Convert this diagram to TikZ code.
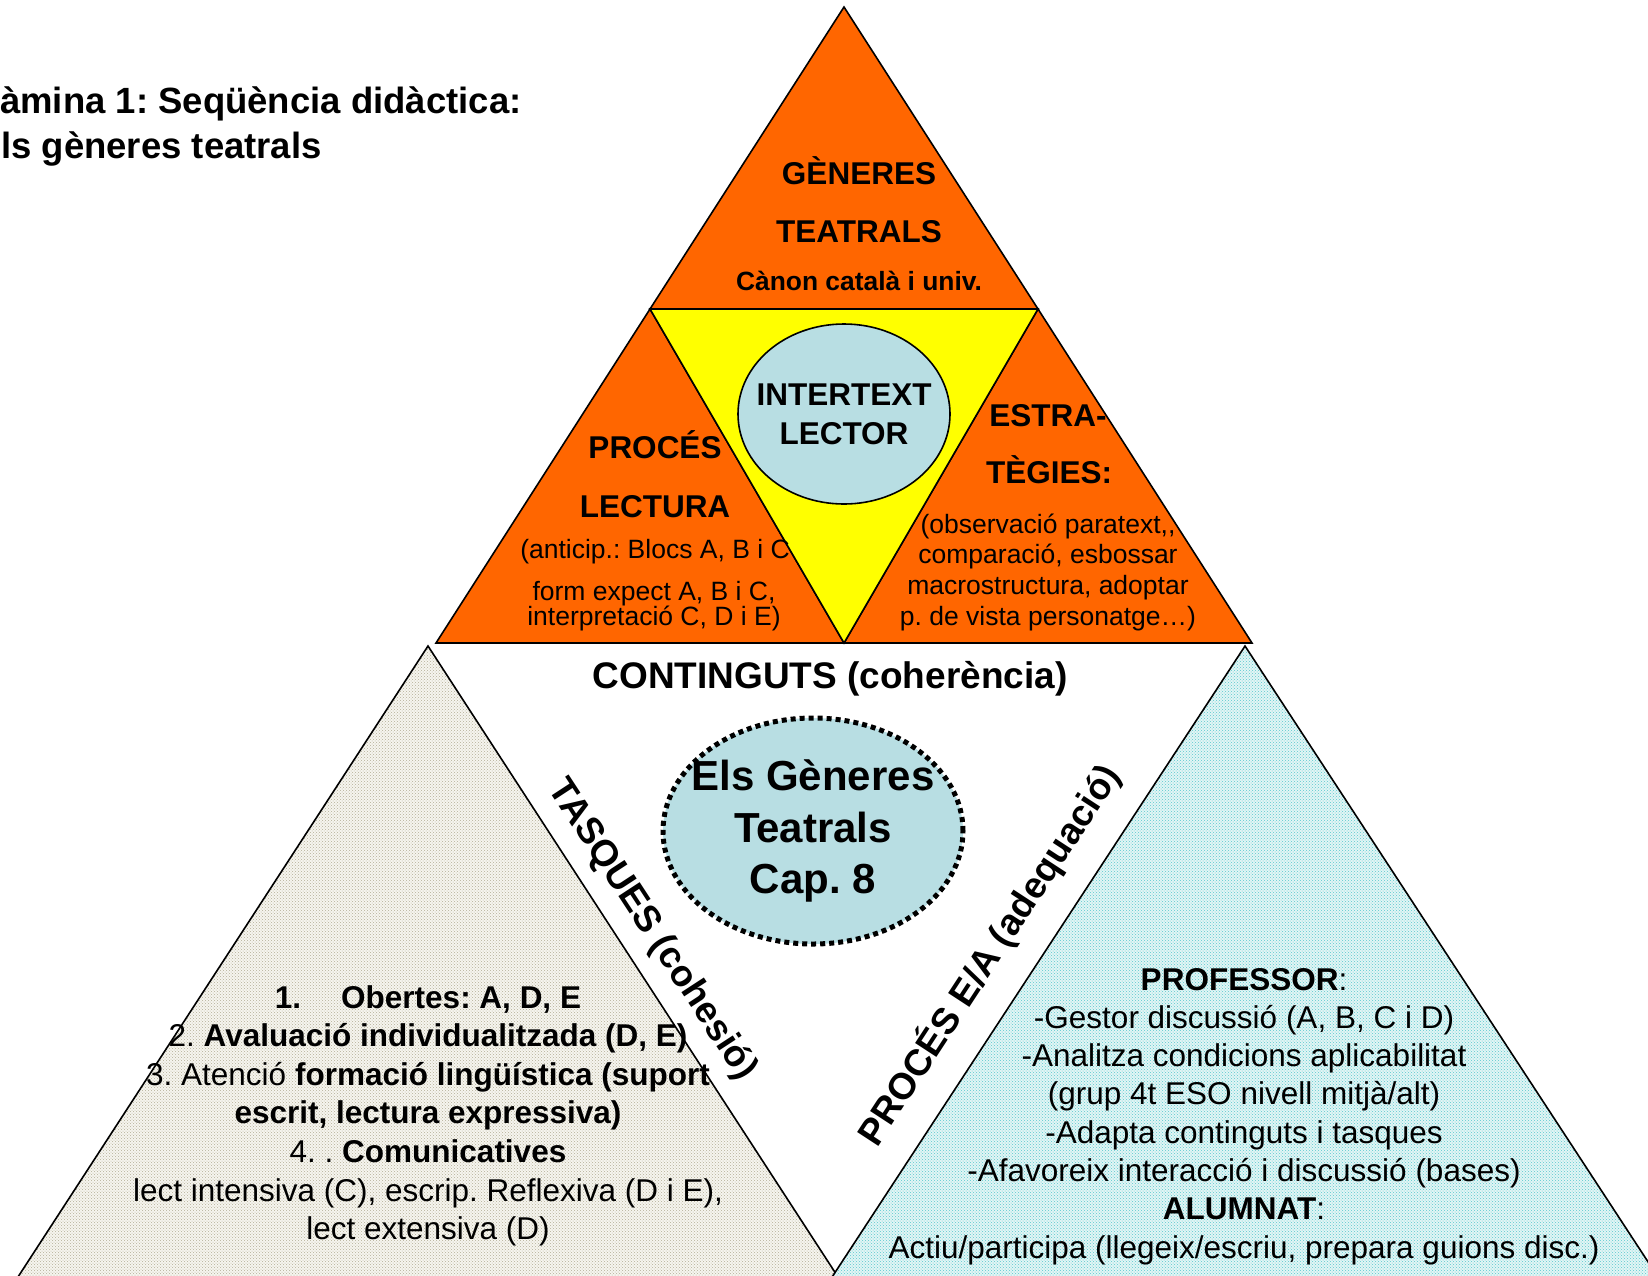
\documentclass[tikz,border=0pt]{standalone}
\usepackage{fontspec}
\setmainfont{Liberation Sans}
\frenchspacing
\usetikzlibrary{shapes.geometric,patterns}
\definecolor{taronja}{RGB}{255,102,0}
\definecolor{groc}{RGB}{255,255,0}
\definecolor{blaucel}{RGB}{184,222,227}
\definecolor{beix}{RGB}{246,245,239}
\definecolor{beixdot}{RGB}{180,175,150}
\definecolor{cian}{RGB}{226,245,245}
\definecolor{ciandot}{RGB}{90,200,205}
\newcommand{\titolfont}{\fontsize{36.5}{44}\selectfont\bfseries}
\newcommand{\capfont}{\fontsize{31.5}{39}\selectfont\bfseries}
\newcommand{\petitfont}{\fontsize{26.5}{31}\selectfont}
\newcommand{\cosfont}{\fontsize{31.5}{38.5}\selectfont}

\begin{document}
\begin{tikzpicture}[x=1pt,y=-1pt,
    tri/.style={draw=black,line width=1.6pt,line join=miter},
    capcal/.style={font=\capfont,anchor=base,inner sep=0pt},
    petit/.style={font=\petitfont,anchor=base,inner sep=0pt},
    cos/.style={font=\cosfont,anchor=base,inner sep=0pt},
    eix/.style={font=\fontsize{37}{44}\selectfont\bfseries,inner sep=0pt},
    bombolla/.style={ellipse,fill=blaucel,inner sep=0pt}]
  \useasboundingbox (0,0) rectangle (1648,1275);
  \clip (0,0) rectangle (1648,1275);

% corners of the big triangle
  \coordinate (cim) at (844,7);
  \coordinate (gl) at (650,309);
  \coordinate (gr) at (1038,309);
  \coordinate (bl) at (436,643);
  \coordinate (bm) at (844,643);
  \coordinate (br) at (1252,643);

% lower triangles (run past the bottom edge)
  \draw[tri,preaction={fill=beix},pattern=crosshatch dots,pattern color=beixdot]
    (428,646) -- (853,1300) -- (3,1300) -- cycle;
  \draw[tri,preaction={fill=cian},pattern=crosshatch dots,pattern color=ciandot]
    (1245,646) -- (1673,1300) -- (817,1300) -- cycle;

% upper pyramid
  \draw[tri,fill=taronja] (cim) -- (gr) -- (gl) -- cycle;
  \draw[tri,fill=taronja] (gl) -- (bm) -- (bl) -- cycle;
  \draw[tri,fill=taronja] (gr) -- (br) -- (bm) -- cycle;
  \draw[tri,fill=groc] (gl) -- (gr) -- (bm) -- cycle;

% title (cut by the left edge)
  \node[font=\titolfont,anchor=base west,inner sep=0pt] (titol1) at (0,113) {àmina 1: Seqüència didàctica:};
  \node[font=\titolfont,anchor=base west,inner sep=0pt] (titol2) at (1,158) {ls gèneres teatrals};

% top
  \node[capcal] (generes) at (859,184) {GÈNERES};
  \node[capcal] (teatrals) at (859,242) {TEATRALS};
  \node[capcal,font=\fontsize{26.4}{31}\selectfont\bfseries] (canon) at (859,290) {Cànon català i univ.};

% left
  \node[capcal] (proces) at (655,458) {PROCÉS};
  \node[capcal] (lectura) at (655,517) {LECTURA};
  \node[petit] (anticip) at (655,558) {(anticip.: Blocs A, B i C};
  \node[petit] (expect) at (654,600) {form expect A, B i C,};
  \node[petit] (interp) at (654,625) {interpretació C, D i E)};

% right
  \node[capcal] (estra) at (1048,426) {ESTRA-};
  \node[capcal] (tegies) at (1049,483) {TÈGIES:};
  \foreach \t [count=\i from 0] in {{(observació paratext,{},},{comparació, esbossar},{macrostructura, adoptar},{p. de vista personatge…)}}
    \node[petit] (estr\i) at (1048,{533+30.7*\i}) {\t};

  \node[bombolla,draw=black,line width=1.6pt,minimum width=212pt,minimum height=180pt] (intertext) at (844,414) {};
  \node[align=center,font=\capfont,inner sep=0pt] (intertextlbl) at (intertext) {INTERTEXT\\LECTOR};

  \node[capcal,font=\fontsize{37}{44}\selectfont\bfseries] (continguts) at (830,688) {CONTINGUTS (coherència)};

  \node[bombolla,draw=black,line width=5pt,dash pattern=on 5pt off 4pt,
        minimum width=300pt,minimum height=226pt] (centre) at (813,831) {};
  \node[align=center,inner sep=0pt,font=\fontsize{42}{51.5}\selectfont\bfseries] (centrelbl) at (centre) {Els Gèneres\\Teatrals\\Cap. 8};

  \node[eix,rotate=-56.8] (tasques) at (652,930) {TASQUES (cohesió)};
  \node[eix,rotate=56.8] (procesea) at (989,955) {PROCÉS E/A (adequació)};

% tasks
  \foreach \t [count=\i from 0] in {{\bfseries 1.\hspace{40pt}Obertes: A, D, E},
      {2. \textbf{Avaluació individualitzada (D, E)}},
      {3. Atenció \textbf{formació lingüística (suport}},
      {\textbf{escrit, lectura expressiva)}},
      {4. . \textbf{Comunicatives}},
      {lect intensiva (C), escrip. Reflexiva (D i E),},
      {lect extensiva (D)}}
    \node[cos] (tasca\i) at (428,{1008+38.6*\i}) {\t};

% teacher and pupils
  \foreach \t [count=\i from 0] in {{\textbf{PROFESSOR}:},
      {-Gestor discussió (A, B, C i D)},
      {-Analitza condicions aplicabilitat},
      {(grup 4t ESO nivell mitjà/alt)},
      {-Adapta continguts i tasques},
      {-Afavoreix interacció i discussió (bases)},
      {\textbf{ALUMNAT}:},
      {Actiu/participa (llegeix/escriu, prepara guions disc.)}}
    \node[cos] (rol\i) at (1244,{990+38.3*\i}) {\t};
\end{tikzpicture}
\end{document}
